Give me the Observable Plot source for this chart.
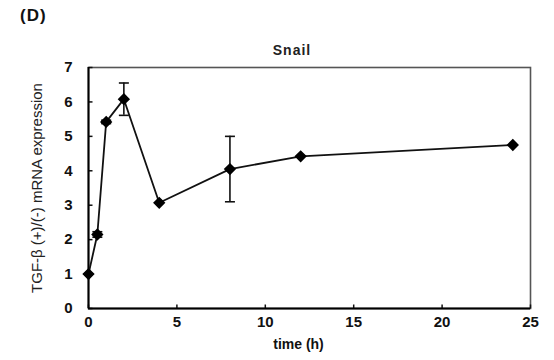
<!DOCTYPE html>
<html>
<head>
<meta charset="utf-8">
<script src="https://cdn.jsdelivr.net/npm/d3@7"></script>
<script src="https://cdn.jsdelivr.net/npm/@observablehq/plot@0.6"></script>
<style>
  html, body { margin: 0; padding: 0; background: #fff; }
  #wrap { position: relative; width: 554px; height: 360px; font-family: "Liberation Sans", Arial, sans-serif; }
  #panel { position: absolute; left: 20px; top: 6px; font-size: 17px; font-weight: bold; letter-spacing: 1px; color: #111; }
  #title { position: absolute; left: 292px; top: 42px; transform: translateX(-50%); font-size: 14px; font-weight: bold; letter-spacing: 1px; color: #222; }
  #chart { position: absolute; left: 0; top: 0; }
</style>
</head>
<body>
<div id="wrap">
  <div id="chart"></div>
  <div id="panel">(D)</div>
  <div id="title">Snail</div>
</div>
<script>
const time = [0, 0.5, 1, 2, 4, 8, 12, 24];
const expression = [1.0, 2.15, 5.42, 6.08, 3.07, 4.05, 4.42, 4.75];
const errorBar = [0, 0.08, 0.05, 0.47, 0, 0.95, 0, 0];
const xTicks = [0, 5, 10, 15, 20, 25];
const yTicks = [0, 1, 2, 3, 4, 5, 6, 7];

const data = time.map((t, i) => ({time: t, value: expression[i], err: errorBar[i]}));
const errData = data.filter(d => d.err > 0);
const capData = errData.flatMap(d => [{time: d.time, value: d.value - d.err}, {time: d.time, value: d.value + d.err}]);

const capSymbol = {
  draw(context, size) {
    const w = Math.sqrt(size / Math.PI);
    context.moveTo(-w, 0);
    context.lineTo(w, 0);
  }
};
const yTickSymbol = {
  draw(context, size) {
    const w = Math.sqrt(size / Math.PI);
    context.moveTo(0, 0);
    context.lineTo(w, 0);
  }
};
const xTickSymbol = {
  draw(context, size) {
    const w = Math.sqrt(size / Math.PI);
    context.moveTo(0, 0);
    context.lineTo(0, -w);
  }
};

const chart = Plot.plot({
  width: 554,
  height: 360,
  marginLeft: 88,
  marginRight: 24,
  marginTop: 67,
  marginBottom: 52,
  style: {fontFamily: "Liberation Sans, Arial, sans-serif", fontSize: "14px", color: "#111", background: "#fff"},
  x: {domain: [0, 25]},
  y: {domain: [0, 7]},
  marks: [
    Plot.frame({stroke: "#555", strokeWidth: 1.6}),
    Plot.axisX({ticks: xTicks, tickSize: 0, tickPadding: 8, fontWeight: "bold", fontSize: 15, letterSpacing: 1.5, tickFormat: d3.format("d"), label: null}),
    Plot.axisY({ticks: yTicks, tickSize: 0, tickPadding: 16, fontWeight: "bold", fontSize: 15, tickFormat: d3.format("d"), label: null}),
    Plot.dot(yTicks, {x: 0, y: d => d, symbol: yTickSymbol, r: 4, stroke: "#111", strokeWidth: 1.5}),
    Plot.dot(xTicks, {x: d => d, y: 0, symbol: xTickSymbol, r: 4, stroke: "#111", strokeWidth: 1.5}),
    Plot.text(["time (h)"], {frameAnchor: "bottom", dx: -11, dy: 40, fontWeight: "bold", fontSize: 14, letterSpacing: 1, text: d => d}),
    Plot.text(["TGF-β (+)/(-) mRNA expression"], {frameAnchor: "left", textAnchor: "middle", dx: -51, rotate: -90, fontSize: 15, letterSpacing: 0.5, fill: "#222", text: d => d}),
    Plot.ruleX([0], {stroke: "#000", strokeWidth: 2}),
    Plot.ruleY([0], {stroke: "#000", strokeWidth: 2}),
    Plot.ruleX(errData, {x: "time", y1: d => d.value - d.err, y2: d => d.value + d.err, stroke: "#111", strokeWidth: 1.6}),
    Plot.dot(capData, {x: "time", y: "value", symbol: capSymbol, r: 5, stroke: "#111", strokeWidth: 1.6}),
    Plot.line(data, {x: "time", y: "value", stroke: "#111", strokeWidth: 1.8}),
    Plot.dot(data, {x: "time", y: "value", symbol: "diamond2", r: 4.6, fill: "#000", stroke: "#000"})
  ]
});
document.getElementById("chart").appendChild(chart);
</script>
</body>
</html>
